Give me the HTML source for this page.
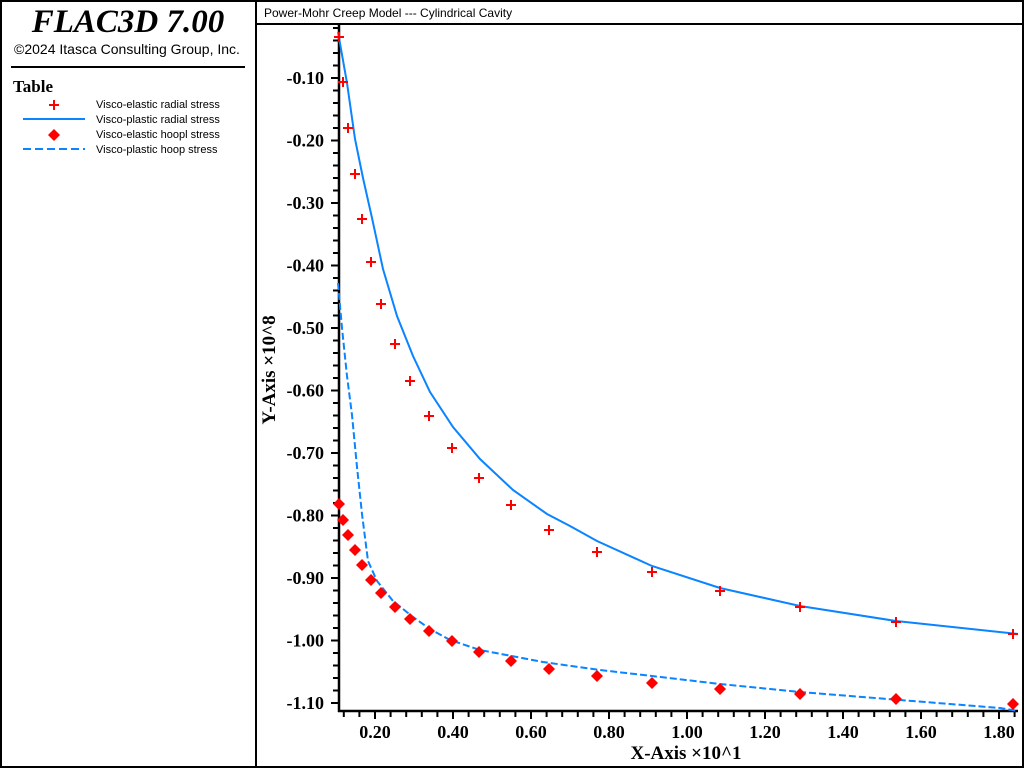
<!DOCTYPE html>
<html><head><meta charset="utf-8"><style>
html,body{margin:0;padding:0;background:#fff}
svg{display:block}
</style></head><body>
<svg width="1024" height="768" viewBox="0 0 1024 768" xmlns="http://www.w3.org/2000/svg">
<rect x="1" y="1" width="1022" height="766" fill="#fff" stroke="#000" stroke-width="2"/>
<line x1="256" y1="0" x2="256" y2="768" stroke="#000" stroke-width="2"/>
<line x1="256" y1="24" x2="1024" y2="24" stroke="#000" stroke-width="2"/>
<text x="264" y="17" font-family="Liberation Sans, sans-serif" font-size="12">Power-Mohr Creep Model --- Cylindrical Cavity</text>
<text x="128" y="32" text-anchor="middle" font-family="Liberation Serif, serif" font-style="italic" font-weight="bold" font-size="33">FLAC3D 7.00</text>
<text x="127" y="54" text-anchor="middle" font-family="Liberation Sans, sans-serif" font-size="14">©2024 Itasca Consulting Group, Inc.</text>
<line x1="11" y1="67" x2="245" y2="67" stroke="#000" stroke-width="2"/>
<text x="13" y="92" font-family="Liberation Serif, serif" font-weight="bold" font-size="17">Table</text>
<g font-family="Liberation Sans, sans-serif" font-size="11">
<text x="96" y="108">Visco-elastic radial stress</text>
<text x="96" y="123">Visco-plastic radial stress</text>
<text x="96" y="138">Visco-elastic hoopl stress</text>
<text x="96" y="153">Visco-plastic hoop stress</text>
</g>
<path d="M49 105h10M54 100v10" stroke="#f00" stroke-width="2"/>
<line x1="23" y1="119" x2="85" y2="119" stroke="#0a84ff" stroke-width="2"/>
<path d="M54 129l6 6-6 6-6-6z" fill="#f00"/>
<line x1="23" y1="149" x2="85" y2="149" stroke="#0a84ff" stroke-width="2" stroke-dasharray="8,4"/>

<line x1="339" y1="25" x2="339" y2="712" stroke="#000" stroke-width="2.5"/>
<line x1="338" y1="711" x2="1018" y2="711" stroke="#000" stroke-width="2.5"/>
<g stroke="#000" stroke-width="2" id="yt"></g>
<g stroke="#000" stroke-width="2" id="xt"></g>
<g font-family="Liberation Serif, serif" font-size="18" font-weight="bold" id="yl" text-anchor="end"></g>
<g font-family="Liberation Serif, serif" font-size="18" font-weight="bold" id="xl" text-anchor="middle"></g>
<text x="686" y="759" text-anchor="middle" font-family="Liberation Serif, serif" font-weight="bold" font-size="19">X-Axis ×10^1</text>
<text transform="translate(275,370) rotate(-90)" text-anchor="middle" font-family="Liberation Serif, serif" font-weight="bold" font-size="19">Y-Axis ×10^8</text>

<polyline fill="none" stroke="#0a84ff" stroke-width="2" points="338,32 347,83 355,139 363,178 372,218 383,269 397,316 413,356 430,392 453,427 480,459 513,490 547,514 570,526 597,541 652,566 720,588 800,606 896,621 1018,634"/>
<polyline fill="none" stroke="#0a84ff" stroke-width="2" stroke-dasharray="7,3" points="338,283 342,328 347,376 352,415 357,467 362,514 368,561 377,581 393,601 413,617 430,629 450,640 480,650 543,662 600,670 652,676 720,684 800,692 900,700 1000,708 1018,711"/>
<g id="pl" stroke="#f00" stroke-width="2"></g>
<g id="dm" fill="#f00"></g>
</svg>
<script>
var ns="http://www.w3.org/2000/svg";
function el(p,t,a,txt){var e=document.createElementNS(ns,t);for(var k in a)e.setAttribute(k,a[k]);if(txt)e.textContent=txt;document.getElementById(p).appendChild(e);}
for(var i=0;i<=55;i++){var v=0.02*i;var y=78+(v-0.1)*625;if(y<28||y>711)continue;var maj=(i%5==0);el('yt','line',{x1:maj?331:333,y1:y,x2:339,y2:y});if(maj&&i>0){el('yl','text',{x:324,y:y+6},'-'+v.toFixed(2));}}
for(var i=3;i<=46;i++){var u=0.04*i;var x=375+(u-0.2)*390;if(x<341||x>1018)continue;var maj=(i%5==0);el('xt','line',{x1:x,y1:711,x2:x,y2:maj?719:717});if(maj)el('xl','text',{x:x,y:738},u.toFixed(2));}
var xs=[339,343,348,355,362,371,381,395,410,429,452,479,511,549,597,652,720,800,896,1013];
var yr=[37,82,128,174,219,262,304,344,381,416,448,478,505,530,552,572,591,607,622,634];
var yh=[504,520,535,550,565,580,593,607,619,631,641,652,661,669,676,683,689,694,699,704];
for(var i=0;i<xs.length;i++){el('pl','path',{d:'M'+(xs[i]-5)+' '+yr[i]+'h10M'+xs[i]+' '+(yr[i]-5)+'v10'});el('dm','path',{d:'M'+xs[i]+' '+(yh[i]-6)+'l6 6-6 6-6-6z'});}
</script>
</body></html>
